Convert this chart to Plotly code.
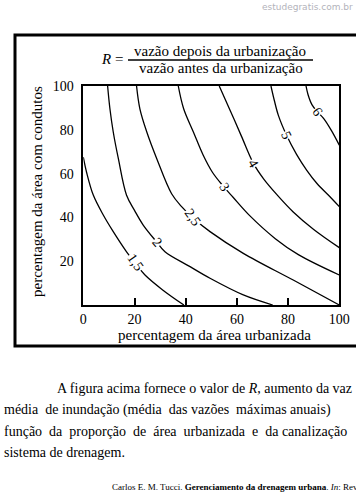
import plotly.graph_objects as go

W, H = 356, 498
SERIF = "Liberation Serif, Times New Roman, serif"
NB = "\u00a0"

# ---------------- data ----------------
x_ticks = [0, 20, 40, 60, 80, 100]
y_ticks = [20, 40, 60, 80, 100]

levels = ["1,5", "2", "2,5", "3", "4", "5", "6"]

c15_x = [0, 1.3, 3.9, 7.8, 11.7, 16.9, 20.3, 24.1, 31, 39.3]
c15_y = [67.5, 60.5, 50.2, 41.1, 33.5, 24.3, 19.2, 13.7, 6.9, 0]

c2_x = [9.5, 10.4, 11.7, 13.7, 16.9, 20.1, 23.4, 28.5, 31.9, 41.7, 49.5, 62.5, 74]
c2_y = [100, 89.6, 79, 66.8, 50.1, 43, 36.5, 29, 24.3, 17.5, 12.2, 4.6, 0]

c25_x = [20.8, 22.1, 24.8, 28.7, 34.5, 38.4, 43, 49.5, 62.5, 82, 100]
c25_y = [100, 89.6, 79, 66.8, 50.8, 44.9, 39.6, 33.5, 23.6, 11.4, 0]

c3_x = [37.1, 39.2, 43, 46.8, 50.5, 54.5, 58.5, 65, 75, 84, 100]
c3_y = [100, 89.6, 79, 68.5, 60.5, 54.5, 49.2, 40.8, 30.3, 23, 13.7]

c4_x = [53.1, 57.5, 61.8, 66.4, 70.5, 75.7, 82, 90, 100]
c4_y = [100, 88.5, 77, 64.8, 57.5, 50.3, 42.5, 34.5, 26.2]

c5_x = [73.3, 74.6, 76.2, 79.4, 83.3, 87.3, 91.2, 95.7, 100]
c5_y = [100, 93.5, 86.6, 77.5, 68.8, 61.5, 55.6, 50.2, 44.9]

c6_x = [87, 87.8, 89.3, 91.4, 94, 97, 100]
c6_y = [100, 96, 91.5, 88.3, 85, 79.5, 73]

curves_x = [c15_x, c2_x, c25_x, c3_x, c4_x, c5_x, c6_x]
curves_y = [c15_y, c2_y, c25_y, c3_y, c4_y, c5_y, c6_y]

label_x = [20.3, 29, 42.8, 55, 66.4, 79.4, 91.4]
label_y = [19.2, 28.7, 40, 54, 64.8, 77.5, 88.3]
label_angle = [55, 50, 55, 55, 60, 65, 55]

# ---------------- helpers (pixel -> paper) ----------------
def px(x):
    return x / W

def py(y):
    return 1 - y / H

X0, X1, YT, YB = 83.3, 339.3, 86, 305

fig = go.Figure()

for cx, cy in zip(curves_x, curves_y):
    fig.add_trace(go.Scatter(
        x=cx, y=cy, mode="lines",
        line=dict(color="black", width=1.3, shape="spline", smoothing=1.0),
        showlegend=False, hoverinfo="skip"))

annotations = []
for t, lx, ly, ang in zip(levels, label_x, label_y, label_angle):
    annotations.append(dict(
        x=lx, y=ly, xref="x", yref="y", text=t, showarrow=False,
        textangle=ang, bgcolor="white", borderpad=0,
        font=dict(family=SERIF, size=14, color="black")))

# axis titles
annotations.append(dict(
    x=px(214), y=py(335), xref="paper", yref="paper", showarrow=False,
    text="percentagem da área urbanizada", xanchor="center", yanchor="middle",
    font=dict(family=SERIF, size=15, color="black")))
annotations.append(dict(
    x=px(37), y=py(192), xref="paper", yref="paper", showarrow=False,
    text="percentagem da área com condutos", textangle=-90,
    xanchor="center", yanchor="middle",
    font=dict(family=SERIF, size=15, color="black")))

# formula title
annotations.append(dict(
    x=px(125), y=py(59), xref="paper", yref="paper", showarrow=False,
    text="<i>R</i> =", xanchor="right", yanchor="middle",
    font=dict(family=SERIF, size=15, color="black")))
annotations.append(dict(
    x=px(220), y=py(51), xref="paper", yref="paper", showarrow=False,
    text="vazão depois da urbanização", xanchor="center", yanchor="middle",
    font=dict(family=SERIF, size=15, color="black")))
annotations.append(dict(
    x=px(221), y=py(68), xref="paper", yref="paper", showarrow=False,
    text="vazão antes da urbanização", xanchor="center", yanchor="middle",
    font=dict(family=SERIF, size=15, color="black")))

# paragraph text (justified look via non-breaking spaces)
line1 = "A figura acima fornece o valor de <i>R</i>, aumento da vaz"
line2 = ("média" + NB + " de inundação (média" + NB + " das vazões" + NB +
         " máximas anuais)")
line3 = ("função" + NB + " da" + NB + " proporção" + NB + " de" + NB + " área" + NB +
         " urbanizada" + NB + " e" + NB + " da canalização")
line4 = "sistema de drenagem."
para = [(55, 388, line1, 14), (2, 410, line2, 14), (2, 431, line3, 14), (2, 452, line4, 14)]
for lx, ly, t, fs in para:
    annotations.append(dict(
        x=px(lx), y=py(ly), xref="paper", yref="paper", showarrow=False,
        text=t, xanchor="left", yanchor="middle",
        font=dict(family=SERIF, size=fs, color="black")))

annotations.append(dict(
    x=px(110), y=py(487), xref="paper", yref="paper", showarrow=False,
    text="Carlos E. M. Tucci. <b>Gerenciamento da drenagem urbana</b>. <i>In</i>: Rev",
    xanchor="left", yanchor="middle",
    font=dict(family=SERIF, size=9, color="black")))

# watermark
annotations.append(dict(
    x=px(355), y=py(7), xref="paper", yref="paper", showarrow=False,
    text="estudegratis.com.br", xanchor="right", yanchor="middle",
    font=dict(family="DejaVu Sans, Verdana, sans-serif", size=9, color="#b3b3bb")))

xdom = [px(X0), px(X1)]
ydom = [py(YB), py(YT)]

fig.update_layout(
    width=W, height=H, autosize=False,
    margin=dict(l=0, r=0, t=0, b=0),
    paper_bgcolor="white", plot_bgcolor="white",
    showlegend=False,
    annotations=annotations,
    shapes=[
        dict(type="rect", xref="paper", yref="paper",
             x0=px(15), x1=1.3, y0=py(346), y1=py(35),
             line=dict(color="black", width=3)),
        dict(type="line", xref="paper", yref="paper",
             x0=px(128), x1=px(313), y0=py(60), y1=py(60),
             line=dict(color="black", width=1.3)),
    ],
    xaxis=dict(
        domain=xdom, range=[0, 100], anchor="y",
        showline=True, mirror=True, linecolor="black", linewidth=1.5,
        ticks="inside", ticklen=7, tickwidth=2, tickcolor="black",
        tickvals=x_ticks, ticktext=[str(v) for v in x_ticks],
        tickfont=dict(family=SERIF, size=14, color="black"),
        showgrid=False, zeroline=False, automargin=False),
    xaxis2=dict(
        domain=xdom, range=[0, 100], anchor="y", overlaying="x", side="top",
        showline=False, ticks="inside", ticklen=10, tickwidth=2,
        tickcolor="black", tickvals=x_ticks[1:-1], showticklabels=False,
        showgrid=False, zeroline=False, automargin=False),
    yaxis=dict(
        domain=ydom, range=[0, 100], anchor="x",
        showline=True, mirror=True, linecolor="black", linewidth=1.5,
        ticks="", tickvals=y_ticks, ticktext=[str(v) for v in y_ticks],
        tickfont=dict(family=SERIF, size=14, color="black"),
        ticklabelstandoff=5,
        showgrid=False, zeroline=False, automargin=False),
    yaxis2=dict(
        domain=ydom, range=[0, 100], anchor="x", overlaying="y", side="left",
        showline=False, ticks="outside", ticklen=4, tickwidth=2,
        tickcolor="black", tickvals=y_ticks[:-1], showticklabels=False,
        showgrid=False, zeroline=False, automargin=False),
    yaxis3=dict(
        domain=ydom, range=[0, 100], anchor="x", overlaying="y", side="left",
        showline=False, ticks="inside", ticklen=5, tickwidth=2,
        tickcolor="black", tickvals=y_ticks[:-1], showticklabels=False,
        showgrid=False, zeroline=False, automargin=False),
    yaxis4=dict(
        domain=ydom, range=[-3.6, 96.4], anchor="x", overlaying="y", side="right",
        showline=False, ticks="inside", ticklen=10, tickwidth=2,
        tickcolor="black", tickvals=y_ticks[:-1], showticklabels=False,
        showgrid=False, zeroline=False, automargin=False),
)

# remove the default 8px page margin so the figure fills the window exactly
fig.write_html("out.html", config={"displayModeBar": False},
               post_script="document.body.style.margin='0';document.body.style.overflow='hidden';")
